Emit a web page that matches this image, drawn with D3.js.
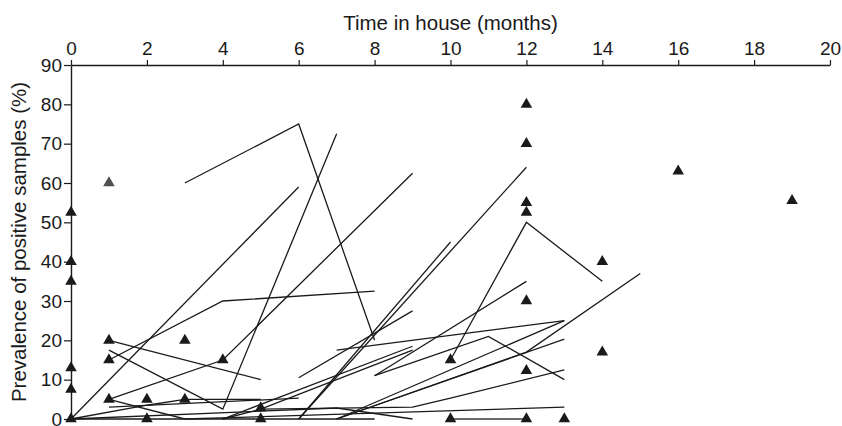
<!DOCTYPE html>
<html>
<head>
<meta charset="utf-8">
<script src="https://cdn.jsdelivr.net/npm/d3@7"></script>
<style>
  html, body { margin: 0; padding: 0; background: #fff; }
  svg { display: block; font-family: "Liberation Sans", Arial, sans-serif; }
</style>
</head>
<body>
<svg id="chart" width="842" height="426"></svg>
<script>
// ---- data ----
const xTicks = [0, 2, 4, 6, 8, 10, 12, 14, 16, 18, 20];
const yTicks = [0, 10, 20, 30, 40, 50, 60, 70, 80, 90];
const xTitle = "Time in house (months)";
const yTitle = "Prevalence of positive samples (%)";

// individual house trajectories (time in months, prevalence %)
const lineTimes = [
  [3, 6, 8],
  [0, 6],
  [1, 4, 7],
  [1, 4, 8],
  [1, 4, 9],
  [1, 5],
  [1, 3],
  [0, 2, 3, 5],
  [1, 6],
  [0, 7, 9],
  [4, 9],
  [4, 5, 9],
  [6, 10],
  [6, 12],
  [6, 9],
  [7, 13],
  [8, 12],
  [8, 11, 13],
  [7, 13],
  [7, 13],
  [7, 12, 15],
  [5, 9, 10, 13],
  [3, 13],
  [10, 12, 14],
  [0, 2, 5, 8]
];
const lineValues = [
  [60, 75, 20],
  [0, 59],
  [17.5, 2.5, 72.5],
  [15, 30, 32.5],
  [5, 15, 62.5],
  [20, 10],
  [5, 0],
  [0, 3.5, 5, 5],
  [3, 5.3],
  [0, 2.8, 0],
  [0, 18.5],
  [0, 2.5, 17.5],
  [0, 45],
  [0, 64],
  [10.5, 27.5],
  [17.5, 25],
  [11, 35],
  [11, 21, 10],
  [0, 25],
  [0, 20.3],
  [0, 17, 37],
  [2.5, 3, 5.3, 12.5],
  [0, 3],
  [15, 50, 35],
  [0, 0, 0, 0]
];
// grey connector at zero
const greyTimes = [10, 12];
const greyValues = [0, 0];

// triangle markers
const markerTimes  = [0, 0, 0, 0, 0, 0, 1, 1, 1, 2, 2, 3, 3, 4, 5, 5, 10, 10, 12, 12, 12, 12, 12, 12, 12, 13, 14, 14, 16, 19];
const markerValues = [52.5, 40, 35, 13, 7.5, 0, 20, 15, 5, 5, 0, 20, 5, 15, 2.8, 0, 15, 0, 80, 70, 55, 52.5, 30, 12.3, 0, 0, 40, 17, 63, 55.5];
const greyMarkerTimes = [1];
const greyMarkerValues = [60];

// ---- drawing ----
const svg = d3.select("#chart");
const x = d3.scaleLinear().domain([0, 20]).range([71, 830]);
const y = d3.scaleLinear().domain([0, 90]).range([419, 65]);

const ink = "#1a1a1a";

// top axis
const gx = svg.append("g")
  .attr("transform", `translate(0,${y(90)})`)
  .call(d3.axisTop(x).tickValues(xTicks).tickSize(5).tickPadding(5).tickSizeOuter(0));
// left axis
const gy = svg.append("g")
  .attr("transform", `translate(${x(0)},0)`)
  .call(d3.axisLeft(y).tickValues(yTicks).tickSize(7).tickPadding(2).tickSizeOuter(0));

[gx, gy].forEach(g => {
  g.select(".domain").attr("stroke", ink).attr("stroke-width", 1.4);
  g.selectAll(".tick line").attr("stroke", ink).attr("stroke-width", 1.2);
  g.selectAll(".tick text").attr("fill", ink)
    .style("font-size", "19px")
    .style("font-family", '"Liberation Sans", Arial, sans-serif');
});

svg.append("text")
  .attr("x", (x(0) + x(20)) / 2)
  .attr("y", 30)
  .attr("text-anchor", "middle")
  .attr("fill", ink)
  .style("font-size", "20.5px")
  .text(xTitle);

svg.append("text")
  .attr("transform", `translate(26,${(y(0) + y(90)) / 2}) rotate(-90)`)
  .attr("text-anchor", "middle")
  .attr("fill", ink)
  .style("font-size", "20.5px")
  .text(yTitle);

const line = d3.line().x(d => x(d[0])).y(d => y(d[1]));

// grey connector
svg.append("path")
  .datum(greyTimes.map((t, i) => [t, greyValues[i]]))
  .attr("d", line)
  .attr("fill", "none")
  .attr("stroke", "#6b6b6b")
  .attr("stroke-width", 2);

svg.append("g").selectAll("path")
  .data(lineTimes.map((ts, i) => ts.map((t, j) => [t, lineValues[i][j]])))
  .join("path")
  .attr("d", line)
  .attr("fill", "none")
  .attr("stroke", ink)
  .attr("stroke-width", 1.3);

const tri = d3.symbol().type(d3.symbolTriangle).size(58);

svg.append("g").selectAll("path")
  .data(markerTimes.map((t, i) => [t, markerValues[i]]))
  .join("path")
  .attr("transform", d => `translate(${x(d[0])},${y(d[1])})`)
  .attr("d", tri)
  .attr("fill", ink);

svg.append("g").selectAll("path")
  .data(greyMarkerTimes.map((t, i) => [t, greyMarkerValues[i]]))
  .join("path")
  .attr("transform", d => `translate(${x(d[0])},${y(d[1])})`)
  .attr("d", tri)
  .attr("fill", "#505050");
</script>
</body>
</html>
